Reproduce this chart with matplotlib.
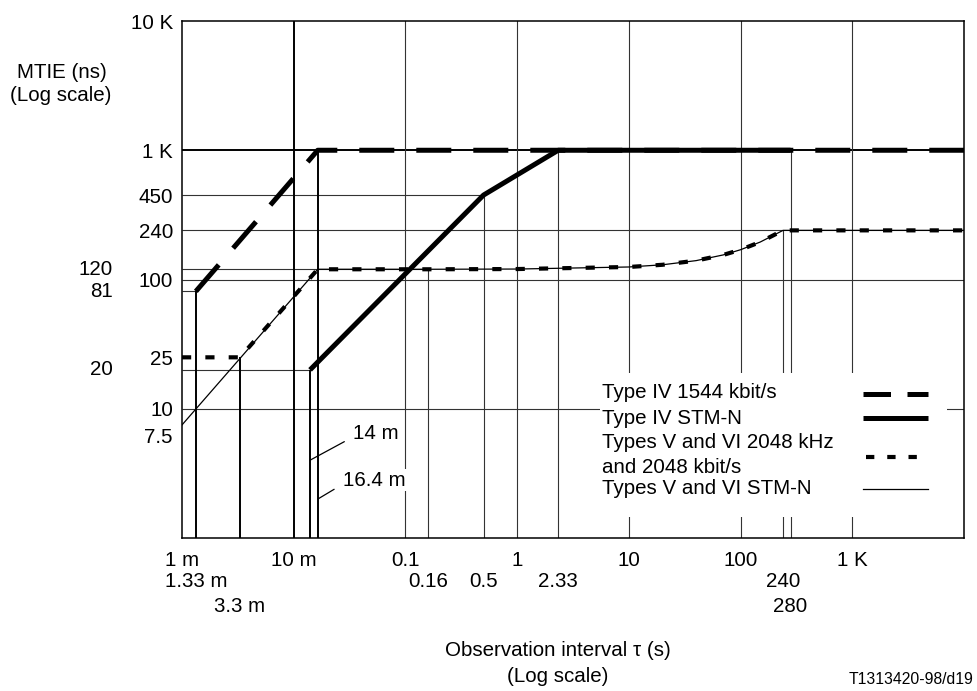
import matplotlib
matplotlib.use('Agg')
import matplotlib.pyplot as plt
from matplotlib.patches import Rectangle
from matplotlib.lines import Line2D

plt.rcParams['font.family'] = ['Liberation Sans', 'DejaVu Sans']

# MTIE masks, tau in s, MTIE in ns
t4_1544_tau = [0.00133, 0.0164, 10000]
t4_1544_mtie = [81, 1000, 1000]

t4_stm_tau = [0.014, 0.5, 2.33, 280]
t4_stm_mtie = [20, 450, 1000, 1000]

t56_2048_tau = [0.001, 0.0033, 0.0164, 0.16, 1, 10, 20, 40, 70, 100, 150, 240, 10000]
t56_2048_mtie = [25, 25, 120, 120, 120.5, 125, 130, 140, 155, 170, 195, 240, 240]

t56_stm_tau = [0.001, 0.0164, 0.16, 1, 10, 20, 40, 70, 100, 150, 240, 10000]
t56_stm_mtie = [7.5, 120, 120, 120.5, 125, 130, 140, 155, 170, 195, 240, 240]

# axis labels
x_major = [0.001, 0.01, 0.1, 1, 10, 100, 1000]
x_major_labels = ['1 m', '10 m', '0.1', '1', '10', '100', '1 K']
x_row2 = [0.00133, 0.16, 0.5, 2.33, 240]
x_row2_labels = ['1.33 m', '0.16', '0.5', '2.33', '240']
x_row3 = [0.0033, 280]
x_row3_labels = ['3.3 m', '280']

y_right = [10, 25, 100, 240, 450, 1000, 10000]
y_right_labels = ['10', '25', '100', '240', '450', '1 K', '10 K']
y_left = [20, 81, 120]
y_left_labels = ['20', '81', '120']
y_low = 7.5  # sits just under "10", nudged down below

# guide lines: (level, right end) and (tau, top)
h_guides = [(450, 0.5), (240, None), (120, 0.16), (100, None), (81, 0.00133), (20, 0.014), (10, None)]
v_full_thin = [0.1, 1, 10, 100, 1000]
v_drop_heavy = [(0.00133, 81), (0.0033, 25), (0.014, 20), (0.0164, 1000)]
v_drop_thin = [(0.16, 120), (0.5, 450), (2.33, 1000), (240, 240), (280, 1000)]

XMIN, XMAX = 0.001, 10000
YMIN, YMAX = 1, 10000
FS = 14.8
GRID = '#333333'

fig = plt.figure(figsize=(9.77, 6.91), dpi=100)
ax = fig.add_axes([0.1863, 0.2214, 0.8004, 0.7482])
ax.set_xscale('log')
ax.set_yscale('log')
ax.set_xlim(XMIN, XMAX)
ax.set_ylim(YMIN, YMAX)
for s in ax.spines.values():
    s.set_linewidth(1.1)

# grid / construction lines
ax.axhline(1000, color='black', lw=1.4, zorder=1)
for lev, xe in h_guides:
    xe = XMAX if xe is None else xe
    ax.hlines(lev, XMIN, xe, color=GRID, lw=0.8, zorder=1)
ax.axvline(0.01, color='black', lw=1.4, zorder=1)
for x in v_full_thin:
    ax.axvline(x, color=GRID, lw=0.8, zorder=1)
for x, top in v_drop_heavy:
    ax.vlines(x, YMIN, top, color='black', lw=1.4, zorder=1)
for x, top in v_drop_thin:
    ax.vlines(x, YMIN, top, color=GRID, lw=0.8, zorder=1)

# curves
ax.plot(t56_stm_tau, t56_stm_mtie, color='black', lw=0.9, zorder=3)
ax.plot(t56_2048_tau, t56_2048_mtie, color='black', lw=3.0, dashes=(2.2, 3.4), zorder=4)
ax.plot(t4_stm_tau, t4_stm_mtie, color='black', lw=3.6, solid_capstyle='butt', zorder=4)
ax.plot(t4_1544_tau, t4_1544_mtie, color='black', lw=3.6, dashes=(7, 4.4), zorder=4)

# ticks
ax.minorticks_off()
ax.set_xticks(x_major)
ax.set_xticklabels(x_major_labels, fontsize=FS)
ax.set_yticks(y_right)
ax.set_yticklabels(y_right_labels, fontsize=FS)
ax.tick_params(axis='x', length=0, pad=9)
ax.tick_params(axis='y', length=0, pad=6.5)

xt = ax.get_xaxis_transform()
for x, lab in zip(x_row2, x_row2_labels):
    ax.annotate(lab, xy=(x, 0), xycoords=xt, xytext=(0, -31), textcoords='offset points',
                ha='center', va='center', fontsize=FS)
for x, lab in zip(x_row3, x_row3_labels):
    ax.annotate(lab, xy=(x, 0), xycoords=xt, xytext=(0, -49), textcoords='offset points',
                ha='center', va='center', fontsize=FS)
yt = ax.get_yaxis_transform()
for y, lab in zip(y_left, y_left_labels):
    ax.annotate(lab, xy=(0, y), xycoords=yt, xytext=(-50, 0), textcoords='offset points',
                ha='right', va='center', fontsize=FS)
ax.annotate('7.5', xy=(0, y_low), xycoords=yt, xytext=(-6.5, -9), textcoords='offset points',
            ha='right', va='center', fontsize=FS)

# 14 m / 16.4 m call-outs
ax.annotate('14 m', xy=(0.014, 4.0), xytext=(31, 19.5), textcoords='offset points',
            ha='left', va='center', fontsize=FS, zorder=6,
            bbox=dict(fc='white', ec='none', pad=1),
            arrowprops=dict(arrowstyle='-', color='black', lw=0.9, shrinkA=6, shrinkB=0, relpos=(0, 0.3)))
ax.annotate('16.4 m', xy=(0.0164, 2.0), xytext=(18, 13.5), textcoords='offset points',
            ha='left', va='center', fontsize=FS, zorder=6,
            bbox=dict(fc='white', ec='none', pad=1),
            arrowprops=dict(arrowstyle='-', color='black', lw=0.9, shrinkA=6, shrinkB=0, relpos=(0, 0.3)))

# legend, drawn by hand
ax.add_patch(Rectangle((0.5345, 0.0406), 0.4438, 0.2784, transform=ax.transAxes,
                       fc='white', ec='none', zorder=5))
leg_text = [(0.2805, 'Type IV 1544 kbit/s'), (0.2321, 'Type IV STM-N'),
            (0.1857, 'Types V and VI 2048 kHz'), (0.1373, 'and 2048 kbit/s'),
            (0.0967, 'Types V and VI STM-N')]
for y, t in leg_text:
    ax.text(0.537, y, t, transform=ax.transAxes, ha='left', va='center', fontsize=FS, zorder=6)
hx = [0.8708, 0.954]
ax.add_line(Line2D(hx, [0.2786, 0.2786], transform=ax.transAxes, color='black', lw=3.6,
                   dashes=(5.5, 3.3), zorder=6))
ax.add_line(Line2D(hx, [0.2321, 0.2321], transform=ax.transAxes, color='black', lw=3.6,
                   solid_capstyle='butt', zorder=6))
ax.add_line(Line2D([0.8745, 0.954], [0.1567, 0.1567], transform=ax.transAxes, color='black', lw=3.0,
                   dashes=(2.0, 3.1), zorder=6))
ax.add_line(Line2D(hx, [0.0948, 0.0948], transform=ax.transAxes, color='black', lw=0.9, zorder=6))

# axis titles and figure id
fig.text(0.0635, 0.8958, 'MTIE (ns)', ha='center', va='center', fontsize=FS)
fig.text(0.0625, 0.8615, '(Log scale)', ha='center', va='center', fontsize=FS)
fig.text(0.571, 1 - 651 / 691, 'Observation interval \u03c4 (s)', ha='center', va='center', fontsize=FS)
fig.text(0.571, 1 - 676 / 691, '(Log scale)', ha='center', va='center', fontsize=FS)
fig.text(0.996, 1 - 680 / 691, 'T1313420-98/d19', ha='right', va='center', fontsize=11.3)

fig.savefig('out.png', dpi=100)
